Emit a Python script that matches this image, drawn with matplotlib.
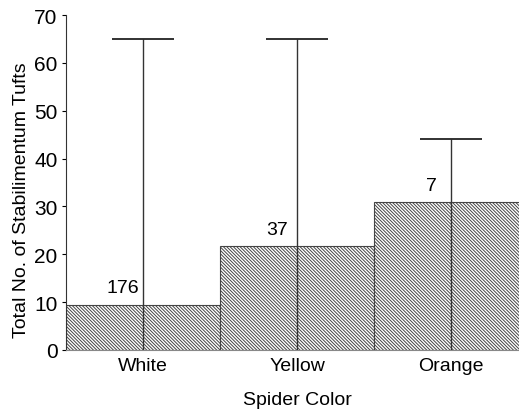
import matplotlib
matplotlib.use("Agg")
import matplotlib.pyplot as plt

colors = ["White", "Yellow", "Orange"]
tufts = [9.4, 21.7, 30.9]
upper = [65, 65, 44]
counts = ["176", "37", "7"]

plt.rcParams["font.family"] = ["Liberation Sans", "DejaVu Sans"]
plt.rcParams["hatch.color"] = "#444444"
plt.rcParams["hatch.linewidth"] = 0.7

fig = plt.figure(figsize=(5.19, 4.14), dpi=100)
ax = fig.add_axes([66 / 519, 1 - 351 / 414, 462 / 519, 335 / 414])

x = list(range(len(colors)))
ax.bar(x, tufts, width=1.0, color="white", edgecolor="#444444",
       linewidth=0.8, hatch="\\" * 10)
for xi, t, u, c in zip(x, tufts, upper, counts):
    ax.vlines(xi, 0, u, color="#333333", linewidth=1.0, zorder=3)
    ax.hlines(u, xi - 0.2, xi + 0.2, color="#222222", linewidth=1.3, zorder=3)
    ax.text(xi - 0.13, t + 1.8, c, ha="center", va="bottom", fontsize=14)

ax.set_xlim(-0.5, 2.5)
ax.set_ylim(0, 70)
ax.set_yticks(range(0, 71, 10))
ax.set_xticks(x)
ax.set_xticklabels(colors)
ax.tick_params(axis="x", length=0, labelsize=14, pad=5)
ax.tick_params(axis="y", length=3, labelsize=15, direction="out", pad=3)
ax.spines["top"].set_visible(False)
ax.spines["right"].set_visible(False)
ax.spines["bottom"].set_color("#888888")
ax.spines["left"].set_color("#333333")
ax.set_xlabel("Spider Color", fontsize=14, labelpad=12)
ax.set_ylabel("Total No. of Stabilimentum Tufts", fontsize=14)
ax.yaxis.set_label_coords(-0.078, 0.45)

fig.savefig("out.png", dpi=100)
